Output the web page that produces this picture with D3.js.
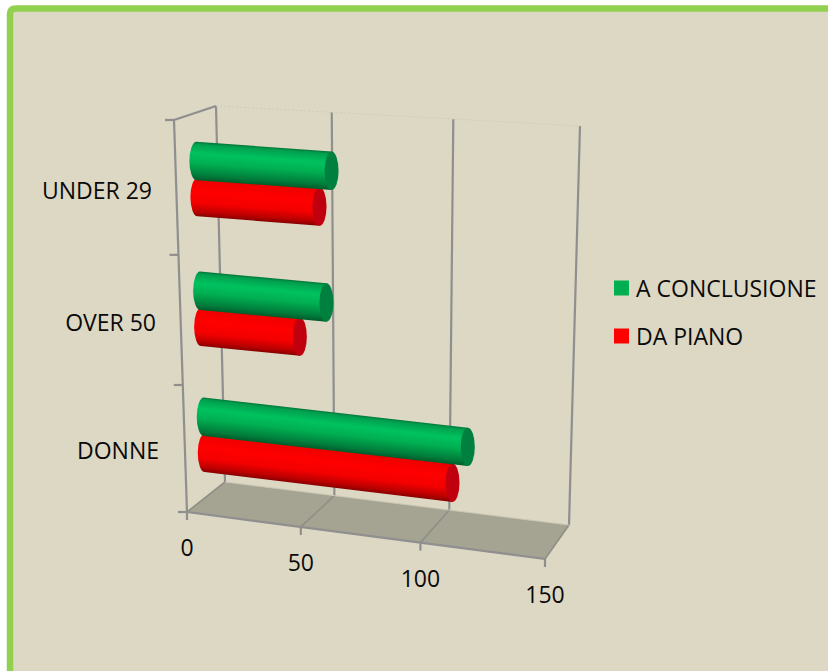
<!DOCTYPE html>
<html><head><meta charset="utf-8">
<script src="https://cdn.jsdelivr.net/npm/d3@7"></script>
<style>html,body{margin:0;padding:0;background:#fff}svg{display:block}text{font-family:"Open Sans",sans-serif;fill:#0a0a0a}</style>
</head><body><svg id="c" width="828" height="671"></svg>
<script>
// Clustered 3D cylinder bars: completion vs. plan, per employee group.
const categories = ["DONNE", "OVER 50", "UNDER 29"];
const seriesNames = ["A CONCLUSIONE", "DA PIANO"];
const aConclusione = [113, 54.5, 57];
const daPiano = [107, 43, 52];
const valueTicks = [0, 50, 100, 150];
const seriesColors = ["#00b050", "#ff0000"];

const svg = d3.select("#c");
const W = 828, H = 671;

// Panel with its green frame (open at the bottom and on the right).
svg.append("rect").attr("width", W).attr("height", H).attr("fill", "#fff");
svg.append("rect").attr("x", 10).attr("y", 8.5).attr("width", W - 10).attr("height", H - 8.5).attr("fill", "#ddd8c3");
svg.append("path")
  .attr("d", "M10,671 V14 Q10,8.5 16,8.5 H828")
  .attr("fill", "none").attr("stroke", "#92d050").attr("stroke-width", 6.5);

// Box corners, used for a trilinear projection of (value, height, depth).
const box = {
  fb0: [187, 512], fb1: [545, 559], bb0: [225, 482], bb1: [569, 525],
  ft0: [174, 120], ft1: [557, 148], bt0: [216, 106], bt1: [580, 126]
};
// Foreshortening makes equal steps slightly wider towards the viewer.
const tScale = d3.scaleLinear().domain(valueTicks).range([0, 0.318, 0.652, 1]);
const hScale = d3.scaleLinear().domain([0, 1, 2, 3]).range([0, 0.324, 0.656, 1]);
const mix = (a, b, t) => [a[0] + (b[0] - a[0]) * t, a[1] + (b[1] - a[1]) * t];
function project(v, h, d) {
  const t = tScale(v);
  const fb = mix(box.fb0, box.fb1, t), bb = mix(box.bb0, box.bb1, t);
  const ft = mix(box.ft0, box.ft1, t), bt = mix(box.bt0, box.bt1, t);
  return mix(mix(fb, ft, h), mix(bb, bt, h), d);
}

// Floor
const floorPts = [project(0,0,0), project(150,0,0), project(150,0,1), project(0,0,1)];
svg.append("path").attr("d", d3.line()(floorPts) + "Z").attr("fill", "#a5a392");

const gridColor = "#8f8f8f";
const seg = (a, b, w = 2.2, col = gridColor, dash = null) => svg.append("line")
  .attr("x1", a[0]).attr("y1", a[1]).attr("x2", b[0]).attr("y2", b[1])
  .attr("stroke", col).attr("stroke-width", w).attr("stroke-dasharray", dash);

// Back-wall gridlines and floor grid
valueTicks.forEach(v => {
  seg(project(v, 0, 1), project(v, 1, 1));
  seg(project(v, 0, 0), project(v, 0, 1), 1.6, "#8f8f86");
  // tick below the front edge
  const p = project(v, 0, 0);
  seg(p, [p[0], p[1] + 8]);
});
// Top edge of the back wall is barely visible
seg(project(0, 1, 1), project(150, 1, 1), 1, "#cfccbd", "2 2");
// Left wall and front floor edge
seg(project(0, 0, 0), project(0, 1, 0));
seg(project(0, 1, 0), project(0, 1, 1));
seg(project(0, 0, 0), project(150, 0, 0));
seg(project(0, 0, 1), project(150, 0, 1), 1, "#c9c5b2");

// Category ticks on the left wall edge
d3.range(0, 4).forEach(i => {
  const p = project(0, hScale(i), 0);
  seg(p, [p[0] - 9, p[1]]);
});

// Gradient stops for the cylinder shading, lit from above
const defs = svg.append("defs");
const shades = [
  [[0, "#00763a"], [0.07, "#00a04e"], [0.3, "#00c25f"], [0.55, "#00b052"], [0.85, "#007f3c"], [1, "#005c2a"]],
  [[0, "#d80000"], [0.07, "#f00000"], [0.35, "#ff0000"], [0.65, "#f40000"], [0.88, "#bb0000"], [1, "#860000"]]
];
const capColors = ["#00803f", "#c0000e"];
const radiusH = 0.05, rx = 7;

function cylinder(value, catIndex, si) {
  const offset = si === 0 ? 0.047 : -0.047;
  const h = hScale(catIndex + 0.5) + offset;
  const a = project(0, h, 0.5), b = project(value, h, 0.5);
  const ry = (project(0, h + radiusH, 0.5)[1] - project(0, h - radiusH, 0.5)[1]) / -2;
  const id = `g${si}-${catIndex}`;
  const dx = b[0] - a[0], dy = b[1] - a[1], len = Math.hypot(dx, dy);
  const nx = -dy / len, ny = dx / len;
  const g = defs.append("linearGradient").attr("id", id).attr("gradientUnits", "userSpaceOnUse")
    .attr("x1", a[0] - nx * ry).attr("y1", a[1] - ny * ry)
    .attr("x2", a[0] + nx * ry).attr("y2", a[1] + ny * ry);
  shades[si].forEach(s => g.append("stop").attr("offset", s[0]).attr("stop-color", s[1]));
  svg.append("path")
    .attr("d", `M${a[0]},${a[1] - ry} L${b[0]},${b[1] - ry} L${b[0]},${b[1] + ry} L${a[0]},${a[1] + ry}
                A${rx},${ry} 0 0 1 ${a[0]},${a[1] - ry}Z`)
    .attr("fill", `url(#${id})`);
  svg.append("ellipse").attr("cx", b[0]).attr("cy", b[1]).attr("rx", rx).attr("ry", ry)
    .attr("fill", capColors[si]);
}
// Lower bars first so the upper series overlaps them
categories.forEach((cat, i) => {
  cylinder(daPiano[i], i, 1);
  cylinder(aConclusione[i], i, 0);
});

// Value labels
const fs = 23;
valueTicks.forEach(v => {
  const p = project(v, 0, 0);
  svg.append("text").attr("x", p[0]).attr("y", p[1] + 44).attr("text-anchor", "middle")
    .attr("font-size", fs).text(v);
});
// Category labels
const catLabelPos = { "DONNE": [159, 459], "OVER 50": [156, 331], "UNDER 29": [152, 199] };
categories.forEach(c => {
  svg.append("text").attr("x", catLabelPos[c][0]).attr("y", catLabelPos[c][1])
    .attr("text-anchor", "end").attr("font-size", fs).text(c);
});
// Legend
const legendY = d3.scalePoint().domain(seriesNames).range([288, 336]);
seriesNames.forEach((n, i) => {
  svg.append("rect").attr("x", 614).attr("y", legendY(n) - 7.5).attr("width", 15).attr("height", 15)
    .attr("fill", seriesColors[i]);
  svg.append("text").attr("x", 636).attr("y", legendY(n) + 9).attr("font-size", fs).text(n);
});
</script></body></html>
